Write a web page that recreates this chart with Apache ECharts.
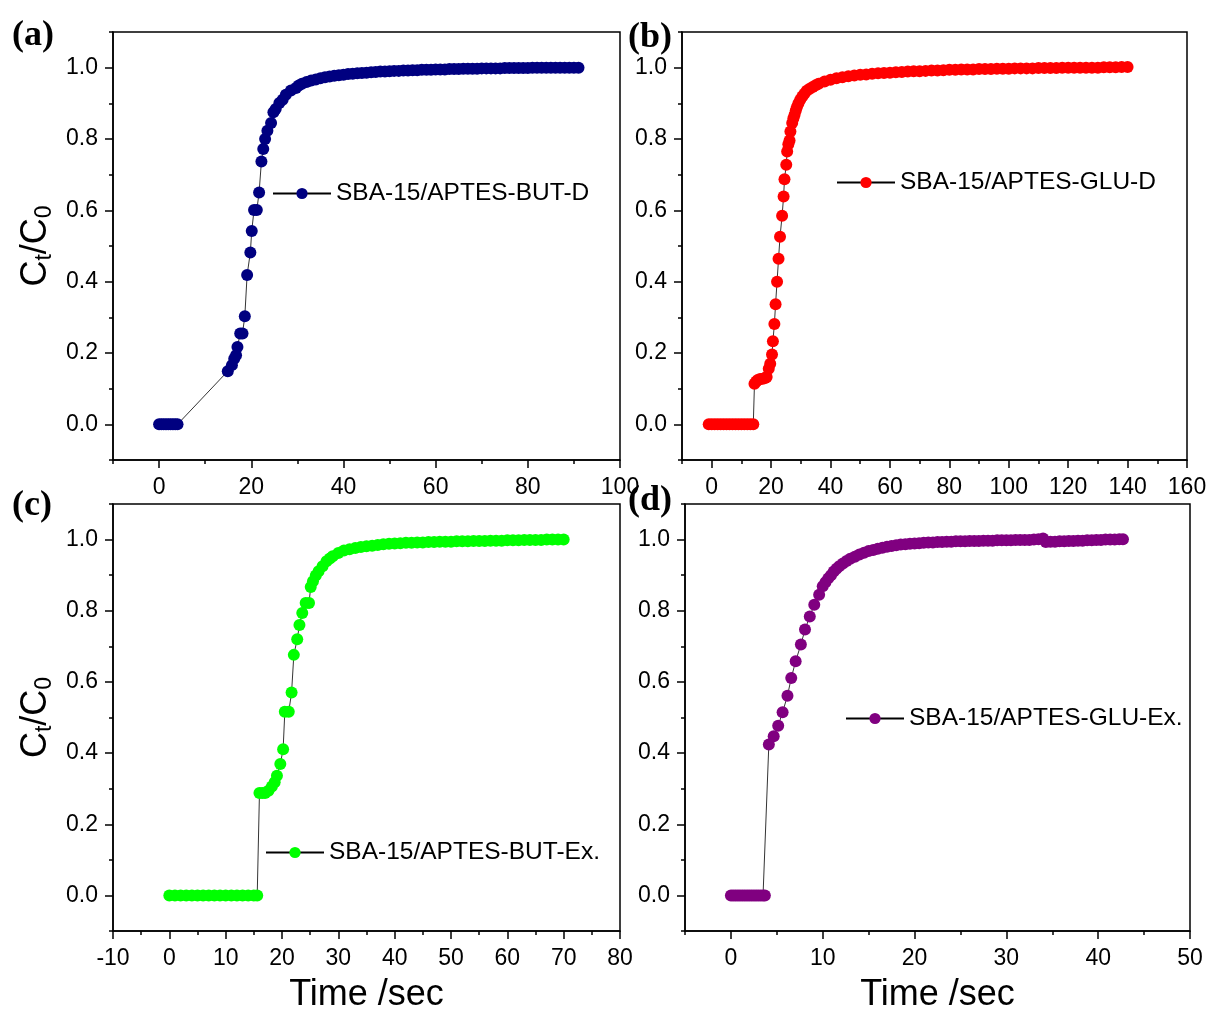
<!DOCTYPE html>
<html><head><meta charset="utf-8">
<script src="https://cdn.jsdelivr.net/npm/echarts@6/dist/echarts.min.js"></script>
<style>html,body{margin:0;padding:0;background:#fff}#chart{width:1212px;height:1014px}</style>
</head><body><div id="chart"></div>
<script>
// ---------------- DATA ----------------
const seriesNames = ['SBA-15/APTES-BUT-D', 'SBA-15/APTES-GLU-D', 'SBA-15/APTES-BUT-Ex.', 'SBA-15/APTES-GLU-Ex.'];
const panelLabels = ['(a)', '(b)', '(c)', '(d)'];
const seriesColors = ['#000080', '#ff0000', '#00ff00', '#800080'];

const dataA = [
  [0,0],[0.5,0],[1,0],[1.5,0],[2,0],[2.5,0],[3,0],[3.5,0],[4,0],
  [14.9,0.149],[15.8,0.166],[16.3,0.184],[16.7,0.194],[17.0,0.217],[17.6,0.255],[18.1,0.255],[18.6,0.303],
  [19.1,0.419],[19.8,0.482],[20.1,0.542],[20.6,0.601],[21.2,0.601],[21.7,0.650],[22.2,0.737],[22.6,0.772],
  [23.0,0.800],[23.5,0.823],[24.3,0.845],[24.8,0.875],[25.3,0.884],[26.1,0.901],[26.8,0.910],[27.5,0.924],
  [28.6,0.936],[29.7,0.943],[30.3,0.950],
  [31,0.955],[32,0.960],[33,0.964],[34,0.967],[35,0.970],[36,0.973],[37,0.975],[38,0.977],[39,0.979],[40,0.980],
  [41,0.982],[42,0.983],[43,0.984],[44,0.985],[45,0.986],[46,0.987],[47,0.988],[48,0.989],[49,0.989],[50,0.990],
  [51,0.991],[52,0.991],[53,0.992],[54,0.992],[55,0.993],[56,0.993],[57,0.994],[58,0.994],[59,0.994],[60,0.995],
  [61,0.995],[62,0.995],[63,0.996],[64,0.996],[65,0.996],[66,0.997],[67,0.997],[68,0.997],[69,0.997],[70,0.998],
  [71,0.998],[72,0.998],[73,0.998],[74,0.998],[75,0.999],[76,0.999],[77,0.999],[78,0.999],[79,0.999],[80,0.999],
  [81,1.0],[82,1.0],[83,1.0],[84,1.0],[85,1.0],[86,1.0],[87,1.0],[88,1.0],[89,1.0],[90,1.0],[91,1.0]
];

const dataB = [
  [-1,0],[0,0],[1,0],[2,0],[3,0],[4,0],[5,0],[6,0],[7,0],[8,0],[9,0],[10,0],[11,0],[12,0],[13,0],[14,0],
  [14.4,0.114],[15.0,0.120],[15.5,0.124],[16.3,0.127],[17.2,0.128],[18.0,0.130],[18.5,0.133],[19.2,0.156],
  [19.7,0.170],[20.3,0.196],[20.6,0.233],[21.1,0.281],[21.5,0.337],[22.0,0.400],[22.5,0.464],[23.0,0.526],
  [23.7,0.585],[24.2,0.639],[24.5,0.687],[25.1,0.728],[25.4,0.765],[25.8,0.785],[26.2,0.796],[26.5,0.821],
  [27.1,0.845],[27.5,0.858],[27.9,0.868],[28.3,0.880],[28.7,0.890],[29.2,0.900],[29.8,0.910],[30.5,0.919],
  [31.2,0.927],[32,0.935],[33,0.941],[34,0.946],[35,0.951],[36,0.955],[38,0.961],[40,0.966],[42,0.970],
  [44,0.973],[46,0.976],[48,0.978],[50,0.980],[52,0.981],[54,0.983],[56,0.984],[58,0.985],[60,0.986],
  [62,0.987],[64,0.988],[66,0.989],[68,0.990],[70,0.990],[72,0.991],[74,0.992],[76,0.992],[78,0.993],
  [80,0.994],[82,0.994],[84,0.995],[86,0.995],[88,0.995],[90,0.996],[92,0.996],[94,0.996],[96,0.997],
  [98,0.997],[100,0.997],[102,0.998],[104,0.998],[106,0.998],[108,0.998],[110,0.999],[112,0.999],[114,0.999],
  [116,0.999],[118,1.0],[120,1.0],[122,1.0],[124,1.0],[126,1.0],[128,1.0],[130,1.0],[132,1.001],[134,1.001],
  [136,1.001],[138,1.002],[140,1.002]
];

const dataC = [
  [0,0],[1,0],[2,0],[3,0],[4,0],[5,0],[6,0],[7,0],[8,0],[9,0],[10,0],[11,0],[12,0],[13,0],[14,0],[15,0],[15.6,0],
  [16.0,0.288],[16.5,0.288],[17.0,0.288],[17.6,0.294],[18.2,0.306],[18.7,0.318],[19.1,0.336],[19.7,0.369],
  [20.2,0.411],[20.5,0.516],[21.2,0.516],[21.7,0.570],[22.1,0.676],[22.7,0.720],[23.1,0.760],[23.6,0.794],
  [24.2,0.822],[24.8,0.822],[25.1,0.867],[25.5,0.883],[26.0,0.899],[26.5,0.911],[27.2,0.925],[27.9,0.939],
  [28.5,0.947],[29.0,0.953],[30,0.962],[31,0.969],[32,0.973],[33,0.976],[34,0.979],[35,0.981],[36,0.983],
  [37,0.985],[38,0.987],[39,0.988],[40,0.989],[41,0.990],[42,0.991],[43,0.991],[44,0.992],[45,0.992],
  [46,0.993],[47,0.993],[48,0.994],[49,0.994],[50,0.994],[51,0.995],[52,0.995],[53,0.995],[54,0.996],
  [55,0.996],[56,0.996],[57,0.997],[58,0.997],[59,0.997],[60,0.998],[61,0.998],[62,0.998],[63,0.999],
  [64,0.999],[65,0.999],[66,0.999],[67,1.0],[68,1.0],[69,1.0],[70,1.0]
];

const dataD = [
  [0,0],[0.25,0],[0.5,0],[0.75,0],[1,0],[1.25,0],[1.5,0],[1.75,0],[2,0],[2.25,0],[2.5,0],[2.75,0],[3,0],[3.25,0],[3.5,0],[3.7,0],
  [4.13,0.424],[4.66,0.447],[5.15,0.477],[5.63,0.515],[6.16,0.561],[6.57,0.611],[7.05,0.658],[7.62,0.705],
  [8.07,0.747],[8.59,0.784],[9.08,0.817],[9.61,0.845],[10.0,0.869],[10.3,0.880],[10.6,0.891],[10.9,0.900],
  [11.2,0.910],[11.5,0.918],[11.8,0.925],[12.2,0.933],[12.6,0.940],[13.0,0.946],[13.5,0.952],[14.0,0.958],
  [14.5,0.963],[15.0,0.968],[15.5,0.971],[16.0,0.974],[16.5,0.977],[17.0,0.980],[17.5,0.982],[18.0,0.984],
  [18.5,0.986],[19.0,0.987],[19.5,0.988],[20.0,0.989],[20.5,0.990],[21.0,0.991],[21.5,0.992],[22.0,0.992],
  [22.5,0.993],[23.0,0.993],[23.5,0.994],[24.0,0.994],[24.5,0.995],[25.0,0.995],[25.5,0.995],[26.0,0.996],
  [26.5,0.996],[27.0,0.996],[27.5,0.997],[28.0,0.997],[28.5,0.997],[29.0,0.998],[29.5,0.998],[30.0,0.998],
  [30.5,0.998],[31.0,0.999],[31.5,0.999],[32.0,0.999],[32.5,0.999],[33.0,1.0],[33.5,1.001],[34.0,1.003],
  [34.3,0.993],[34.8,0.994],[35.3,0.994],[35.8,0.995],[36.3,0.995],[36.8,0.996],[37.3,0.996],[37.8,0.997],
  [38.3,0.997],[38.8,0.998],[39.3,0.998],[39.8,0.999],[40.3,0.999],[40.8,1.0],[41.3,1.0],[41.8,1.0],
  [42.3,1.001],[42.7,1.001]
];

// axis ranges and tick labels
const xRanges = [[-10, 100], [-10, 160], [-10, 80], [-5, 50]];
const xMinorSteps = [10, 10, 5, 5];
const xTickLabelsA = [0, 20, 40, 60, 80, 100];
const xTickLabelsB = [0, 20, 40, 60, 80, 100, 120, 140, 160];
const xTickLabelsC = [-10, 0, 10, 20, 30, 40, 50, 60, 70, 80];
const xTickLabelsD = [0, 10, 20, 30, 40, 50];
const yRange = [-0.1, 1.1];
const yMinorStep = 0.1;
const yTickLabels = [0, 0.2, 0.4, 0.6, 0.8, 1.0];

// ---------------- LAYOUT ----------------
const allData = [dataA, dataB, dataC, dataD];
const xTickLabels = [xTickLabelsA, xTickLabelsB, xTickLabelsC, xTickLabelsD];
const grids = [
  {left: 113, top: 32, width: 507, height: 428},
  {left: 682, top: 32, width: 505, height: 428},
  {left: 113, top: 504, width: 507, height: 429},
  {left: 685, top: 504, width: 505, height: 429}
];
const legendPos = [
  {left: 272, top: 181},
  {left: 836, top: 170},
  {left: 265, top: 840},
  {left: 845, top: 706}
];
const titlePos = [
  {left: 12, top: 18},
  {left: 628, top: 20},
  {left: 12, top: 488},
  {left: 628, top: 483}
];

const FONT = 'Liberation Sans, Arial, sans-serif';
const option = {
  backgroundColor: '#fff',
  animation: false,
  title: [], grid: [], xAxis: [], yAxis: [], series: [], legend: []
};

for (let i = 0; i < 4; i++) {
  const g = grids[i];
  option.grid.push(Object.assign({show: true, borderColor: '#000', borderWidth: 1.5, backgroundColor: 'transparent', containLabel: false}, g));
  option.title.push(Object.assign({
    text: panelLabels[i], padding: 0,
    textStyle: {fontFamily: 'Liberation Serif, Times New Roman, serif', fontWeight: 'bold', fontSize: 36, color: '#000'}
  }, titlePos[i]));
  const bottomRow = i >= 2;
  const leftCol = i % 2 === 0;
  // minor x axis
  option.xAxis.push({
    gridIndex: i, type: 'value', position: 'bottom', min: xRanges[i][0], max: xRanges[i][1], interval: xMinorSteps[i],
    axisLine: {show: true, onZero: false, lineStyle: {color: '#000', width: 1.5}},
    axisTick: {show: true, inside: false, length: 4, lineStyle: {color: '#000', width: 1.5}},
    axisLabel: {show: false}, splitLine: {show: false},
    name: bottomRow ? 'Time /sec' : '', nameLocation: 'middle', nameGap: 46,
    nameTextStyle: {fontFamily: FONT, fontSize: 36, color: '#000'}
  });
  // major x axis
  option.xAxis.push({
    gridIndex: i, type: 'value', position: 'bottom', offset: 0, min: xRanges[i][0], max: xRanges[i][1], interval: xMinorSteps[i],
    axisLine: {show: false, onZero: false},
    axisTick: {show: true, inside: false, length: 8, customValues: xTickLabels[i], lineStyle: {color: '#000', width: 1.5}},
    axisLabel: {show: true, margin: 16, customValues: xTickLabels[i], fontFamily: FONT, fontSize: 23, color: '#000',
      showMinLabel: true, showMaxLabel: true, hideOverlap: false},
    splitLine: {show: false}
  });
  // minor y axis
  option.yAxis.push({
    gridIndex: i, type: 'value', position: 'left', min: yRange[0], max: yRange[1], interval: yMinorStep,
    axisLine: {show: true, onZero: false, lineStyle: {color: '#000', width: 1.5}},
    axisTick: {show: true, inside: false, length: 4, lineStyle: {color: '#000', width: 1.5}},
    axisLabel: {show: false}, splitLine: {show: false},
    name: leftCol ? '{m|C}{s|t}{m|/C}{s|0}' : '', nameLocation: 'middle', nameRotate: 90, nameGap: 58,
    nameTextStyle: {
      fontFamily: FONT, color: '#000',
      rich: {
        m: {fontFamily: FONT, fontSize: 36, lineHeight: 37, color: '#000'},
        s: {fontFamily: FONT, fontSize: 23, lineHeight: 23, padding: [16, 0, 0, 0], color: '#000'}
      }
    }
  });
  // major y axis
  option.yAxis.push({
    gridIndex: i, type: 'value', position: 'left', offset: 0, min: yRange[0], max: yRange[1], interval: yMinorStep,
    axisLine: {show: false, onZero: false},
    axisTick: {show: true, inside: false, length: 8, customValues: yTickLabels, lineStyle: {color: '#000', width: 1.5}},
    axisLabel: {show: true, margin: 15, customValues: yTickLabels, fontFamily: FONT, fontSize: 23, color: '#000',
      formatter: v => Number(v).toFixed(1)},
    splitLine: {show: false}
  });
  option.series.push({
    name: seriesNames[i], type: 'line', xAxisIndex: 2 * i, yAxisIndex: 2 * i,
    data: allData[i], symbol: 'circle', symbolSize: 12, showSymbol: true, showAllSymbol: true,
    lineStyle: {color: '#000', width: 0.8},
    itemStyle: {color: seriesColors[i]},
    emphasis: {disabled: true}, z: 3
  });
  option.legend.push(Object.assign({
    data: [seriesNames[i]], orient: 'horizontal', padding: 0, itemWidth: 58, itemHeight: 14, itemGap: 5,
    textStyle: {fontFamily: FONT, fontSize: 24.5, color: '#000'}, selectedMode: false
  }, legendPos[i]));
}

const chart = echarts.init(document.getElementById('chart'), null, {renderer: 'canvas'});
chart.setOption(option);
</script>
</body></html>
